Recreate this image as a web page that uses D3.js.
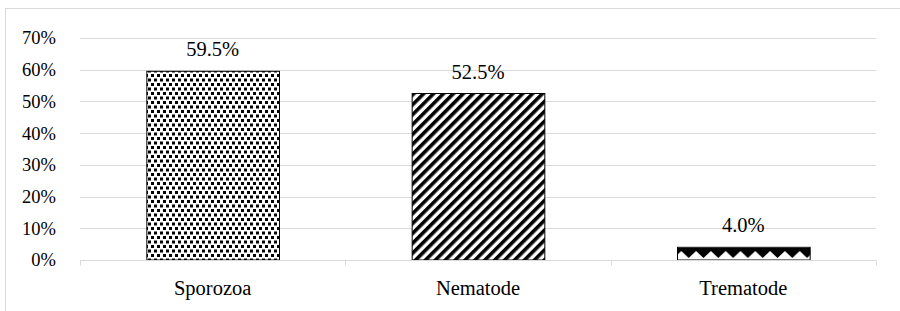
<!DOCTYPE html>
<html>
<head>
<meta charset="utf-8">
<script src="https://cdn.jsdelivr.net/npm/d3@7"></script>
<style>
  body { margin: 0; background: #fff; }
  text { font-family: "Liberation Serif", "Times New Roman", serif; fill: #000; }
</style>
</head>
<body>
<div id="chart"></div>
<script>
// Data
const categories = ["Sporozoa", "Nematode", "Trematode"];
const values = [0.595, 0.525, 0.04];
const valueLabels = ["59.5%", "52.5%", "4.0%"];
const yTicks = [0, 0.1, 0.2, 0.3, 0.4, 0.5, 0.6, 0.7];
const patternIds = ["dots", "stripes", "zigzag"];

const width = 900, height = 311;

const svg = d3.select("#chart")
              .append("svg")
              .attr("width", width)
              .attr("height", height);

// Patterns
const defs = svg.append("defs");

const dots = defs.append("pattern")
                 .attr("id", "dots")
                 .attr("patternUnits", "userSpaceOnUse")
                 .attr("width", 6)
                 .attr("height", 9)
                 .attr("x", 1)
                 .attr("y", 2);
dots.append("rect").attr("width", 6).attr("height", 9).attr("fill", "#fff");
[[0, 0], [3, 4.5]].forEach(([px, py]) => {
    dots.append("rect")
        .attr("x", px).attr("y", py)
        .attr("width", 3).attr("height", 3)
        .attr("fill", "#000");
});

const stripes = defs.append("pattern")
                    .attr("id", "stripes")
                    .attr("patternUnits", "userSpaceOnUse")
                    .attr("width", 7)
                    .attr("height", 10)
                    .attr("patternTransform", "rotate(45)");
stripes.append("rect").attr("width", 7).attr("height", 10).attr("fill", "#fff");
stripes.append("rect").attr("width", 3.6).attr("height", 10).attr("fill", "#000");

const zig = defs.append("pattern")
                .attr("id", "zigzag")
                .attr("patternUnits", "userSpaceOnUse")
                .attr("width", 14.8)
                .attr("height", 40)
                .attr("x", 0.5)
                .attr("y", 248);
zig.append("rect").attr("width", 14.8).attr("height", 40).attr("fill", "#fff");
zig.append("path")
   .attr("d", "M0,0 H14.8 V3 L7.4,10 L0,3 Z")
   .attr("fill", "#000");

// Chart frame
svg.append("rect")
   .attr("x", 5.5)
   .attr("y", 8.5)
   .attr("width", 1000)
   .attr("height", 500)
   .attr("fill", "none")
   .attr("stroke", "#d9d9d9");

// Scales
const x = d3.scaleBand()
            .domain(categories)
            .range([80, 876])
            .paddingInner(0.5)
            .paddingOuter(0.25);

const y = d3.scaleLinear()
            .domain([0, 0.7])
            .range([260, 38]);

// Gridlines
svg.append("g")
   .selectAll("line")
   .data(yTicks.slice(1))
   .join("line")
   .attr("x1", 80)
   .attr("x2", 876)
   .attr("y1", d => Math.round(y(d)) + 0.5)
   .attr("y2", d => Math.round(y(d)) + 0.5)
   .attr("stroke", "#d9d9d9");

// Y axis labels
const yAxis = svg.append("g")
                 .attr("transform", "translate(80,0)")
                 .call(d3.axisLeft(y)
                       .tickValues(yTicks)
                       .tickFormat(d3.format(".0%"))
                       .tickSize(0)
                       .tickPadding(24));
yAxis.select(".domain").remove();
yAxis.selectAll("text")
     .style("font-family", "Liberation Serif")
     .style("font-size", "18.5px");

// Bars
svg.append("g")
   .selectAll("rect")
   .data(categories)
   .join("rect")
   .attr("x", d => x(d) + 0.5)
   .attr("y", (d, i) => y(values[i]))
   .attr("width", x.bandwidth())
   .attr("height", (d, i) => y(0) - y(values[i]))
   .attr("fill", (d, i) => `url(#${patternIds[i]})`)
   .attr("stroke", "#000")
   .attr("stroke-width", 1);

// X axis: baseline, boundary ticks, category labels
const xAxis = svg.append("g")
                 .attr("transform", `translate(0,${Math.round(y(0)) + 0.5})`);
xAxis.append("line")
     .attr("x1", 80).attr("x2", 876)
     .attr("stroke", "#d9d9d9");
xAxis.selectAll(".tick")
     .data(d3.range(categories.length + 1))
     .join("line")
     .attr("x1", i => Math.round(80 + i * x.step()) + 0.5)
     .attr("x2", i => Math.round(80 + i * x.step()) + 0.5)
     .attr("y1", 0)
     .attr("y2", 5)
     .attr("stroke", "#d9d9d9");
xAxis.selectAll("text")
     .data(categories)
     .join("text")
     .attr("x", d => x(d) + x.bandwidth() / 2)
     .attr("y", 34)
     .attr("text-anchor", "middle")
     .style("font-size", "20.5px")
     .text(d => d);

// Value labels
svg.append("g")
   .selectAll("text")
   .data(categories)
   .join("text")
   .attr("x", d => x(d) + x.bandwidth() / 2)
   .attr("y", (d, i) => y(values[i]) - 15)
   .attr("text-anchor", "middle")
   .style("font-size", "20.5px")
   .text((d, i) => valueLabels[i]);
</script>
</body>
</html>
